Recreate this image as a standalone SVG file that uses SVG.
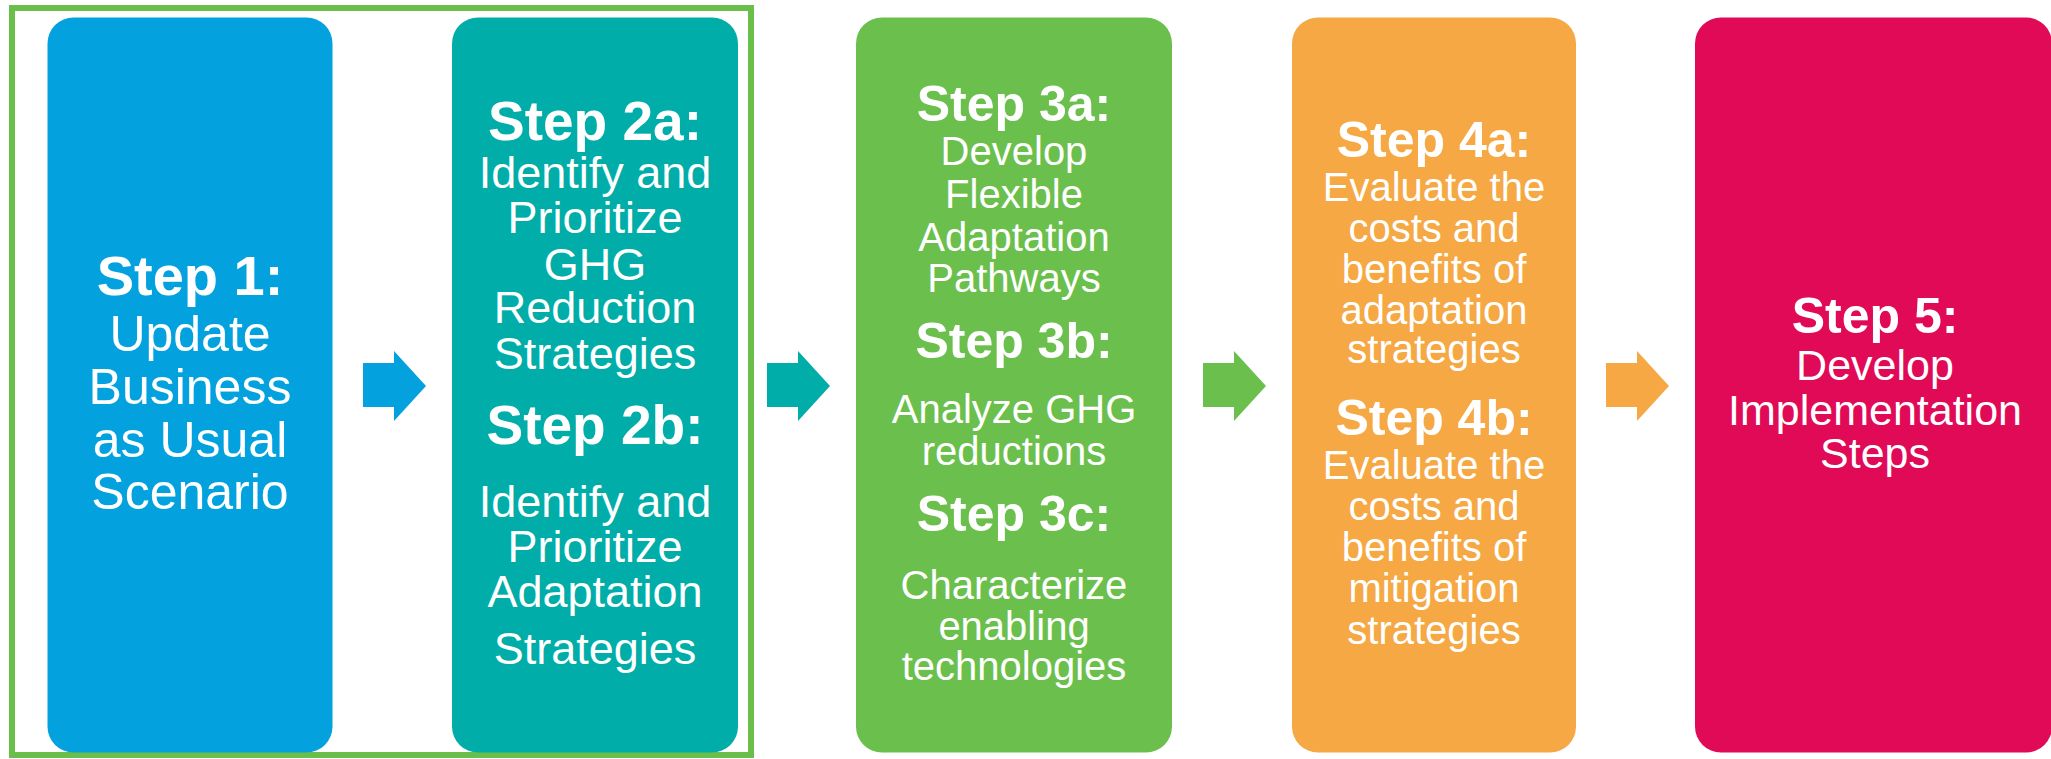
<svg xmlns="http://www.w3.org/2000/svg" width="2051" height="759" viewBox="0 0 2051 759">
<style>
text{font-family:"Liberation Sans",Arial,sans-serif;fill:#fff;text-anchor:middle}
.b{font-weight:bold}
</style>
<rect width="2051" height="759" fill="#fff"/>
<rect id="frame" x="12" y="8" width="739" height="747" fill="none" stroke="#6ABF4B" stroke-width="6"/>
<g id="connectors">
<path d="M363,363 H394 V351 L426,386 L394,421 V407 H363 Z" fill="#03A2DF"/>
<path d="M767,363 H798 V351 L830,386 L798,421 V407 H767 Z" fill="#00ADA8"/>
<path d="M1203,363 H1234 V351 L1266,386 L1234,421 V407 H1203 Z" fill="#6BBF4C"/>
<path d="M1606,363 H1637 V351 L1669,386 L1637,421 V407 H1606 Z" fill="#F5A843"/>
</g>
<g id="step1">
<rect x="47.5" y="17.5" width="285" height="735" rx="26" fill="#03A2DF"/>
<text x="190" y="295" class="b" font-size="56">Step 1:</text>
<text x="190" font-size="50"><tspan x="190" y="351">Update</tspan><tspan x="190" y="404">Business</tspan><tspan x="190" y="457">as Usual</tspan><tspan x="190" y="509">Scenario</tspan></text>
</g>
<g id="step2">
<rect x="452" y="17.5" width="286" height="735" rx="26" fill="#00ADA8"/>
<text x="595" y="140" class="b" font-size="55">Step 2a:</text>
<text font-size="45"><tspan x="595" y="188">Identify and</tspan><tspan x="595" y="233">Prioritize</tspan><tspan x="595" y="280">GHG</tspan><tspan x="595" y="323">Reduction</tspan><tspan x="595" y="369">Strategies</tspan></text>
<text x="595" y="444" class="b" font-size="55">Step 2b:</text>
<text font-size="45"><tspan x="595" y="517">Identify and</tspan><tspan x="595" y="562">Prioritize</tspan><tspan x="595" y="607">Adaptation</tspan><tspan x="595" y="664">Strategies</tspan></text>
</g>
<g id="step3">
<rect x="856" y="17.5" width="316" height="735" rx="26" fill="#6BBF4C"/>
<text x="1014" y="121" class="b" font-size="50">Step 3a:</text>
<text font-size="40"><tspan x="1014" y="165">Develop</tspan><tspan x="1014" y="208">Flexible</tspan><tspan x="1014" y="251">Adaptation</tspan><tspan x="1014" y="292">Pathways</tspan></text>
<text x="1014" y="358" class="b" font-size="50">Step 3b:</text>
<text font-size="40"><tspan x="1014" y="423">Analyze GHG</tspan><tspan x="1014" y="465">reductions</tspan></text>
<text x="1014" y="531" class="b" font-size="50">Step 3c:</text>
<text font-size="40"><tspan x="1014" y="599">Characterize</tspan><tspan x="1014" y="640">enabling</tspan><tspan x="1014" y="680">technologies</tspan></text>
</g>
<g id="step4">
<rect x="1292" y="17.5" width="284" height="735" rx="26" fill="#F5A843"/>
<text x="1434" y="157" class="b" font-size="50">Step 4a:</text>
<text font-size="40"><tspan x="1434" y="201">Evaluate the</tspan><tspan x="1434" y="242">costs and</tspan><tspan x="1434" y="283">benefits of</tspan><tspan x="1434" y="324">adaptation</tspan><tspan x="1434" y="363">strategies</tspan></text>
<text x="1434" y="435" class="b" font-size="50">Step 4b:</text>
<text font-size="40"><tspan x="1434" y="479">Evaluate the</tspan><tspan x="1434" y="520">costs and</tspan><tspan x="1434" y="561">benefits of</tspan><tspan x="1434" y="602">mitigation</tspan><tspan x="1434" y="644">strategies</tspan></text>
</g>
<g id="step5">
<rect x="1695" y="17.5" width="357" height="735" rx="26" fill="#E00A57"/>
<text x="1875" y="333" class="b" font-size="50">Step 5:</text>
<text font-size="43"><tspan x="1875" y="380">Develop</tspan><tspan x="1875" y="425">Implementation</tspan><tspan x="1875" y="468">Steps</tspan></text>
</g>
</svg>
